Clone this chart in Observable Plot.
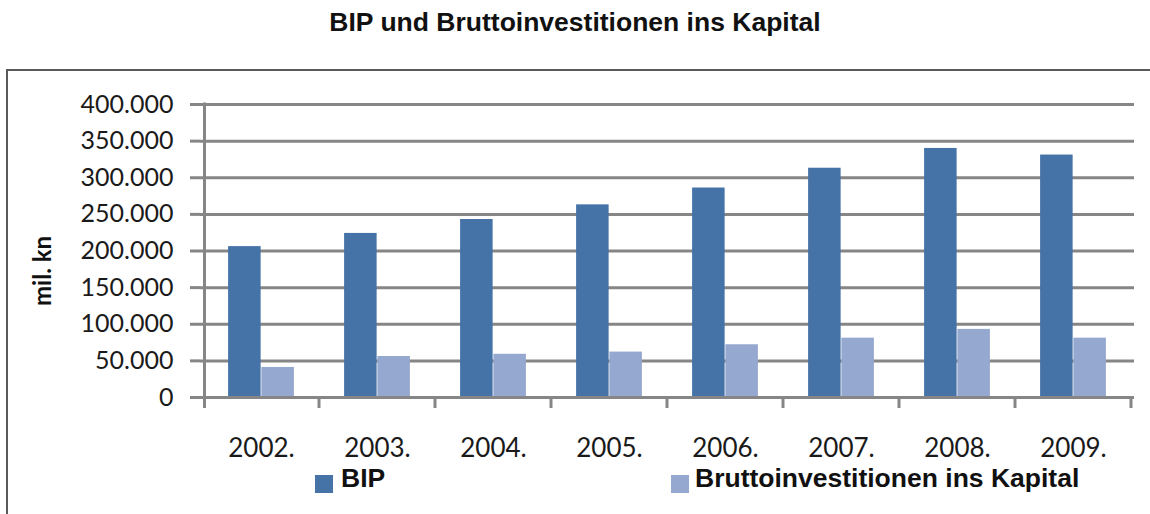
<!DOCTYPE html>
<html>
<head>
<meta charset="utf-8">
<script src="https://cdn.jsdelivr.net/npm/d3@7"></script>
<script src="https://cdn.jsdelivr.net/npm/@observablehq/plot@0.6"></script>
<style>
  html, body { margin: 0; padding: 0; background: #fff; }
  body { width: 1150px; height: 514px; overflow: hidden; position: relative; font-family: "Liberation Sans", Arial, sans-serif; }
  #title { position: absolute; left: 0; top: 9px; width: 1150px; text-align: center; font-size: 26.5px; line-height: 26.5px; font-weight: bold; color: #111; }
  #frame { position: absolute; left: 6px; top: 69px; width: 1160px; height: 470px; border-left: 2px solid #5a5a5a; border-top: 2px solid #5a5a5a; }
  #chart { position: absolute; left: 0; top: 70px; }
  .sw { position: absolute; width: 18px; height: 18px; }
  .lt { position: absolute; font-size: 26.5px; line-height: 26.5px; font-weight: bold; color: #111; white-space: nowrap; }
</style>
</head>
<body>
<div id="title">BIP und Bruttoinvestitionen ins Kapital</div>
<div id="frame"></div>
<div id="chart"></div>
<div id="legend"></div>
<script>
const years = ["2002.", "2003.", "2004.", "2005.", "2006.", "2007.", "2008.", "2009."];
const bip = [206000, 224000, 243000, 263000, 286000, 313000, 340000, 331000];
const inv = [41000, 56000, 59000, 62000, 72000, 81000, 93000, 81000];
const yTicks = [0, 50000, 100000, 150000, 200000, 250000, 300000, 350000, 400000];
const seriesNames = ["BIP", "Bruttoinvestitionen ins Kapital"];
const seriesColors = ["#4573A7", "#95A8CF"];
const yLabel = "mil. kn";

const rows = years.flatMap((yr, i) => [
  {year: yr, series: seriesNames[0], value: bip[i]},
  {year: yr, series: seriesNames[1], value: inv[i]}
]);

const W = 1150, H = 400, mT = 34, mB = 73, mL = 200, mR = 16;
const band = (W - mL - mR) / years.length;
const pair = band * 0.57;
const outer = (band - pair) / 2;
const inner = band / 2;

const nf = d3.formatLocale({decimal: ",", thousands: ".", grouping: [3]}).format(",");

function axisDecor(index, scales, values, dims) {
  const x = scales.x, y = scales.y;
  const bw = x.bandwidth ? x.bandwidth() : (dims.width - dims.marginLeft - dims.marginRight) / years.length;
  const xs = years.map(d => x(d));
  xs.push(xs[xs.length - 1] + bw);
  const y0 = y(0), yTop = y(yTicks[yTicks.length - 1]);
  const g = d3.create("svg:g").attr("stroke", "#868686").attr("stroke-width", 3);
  g.append("line").attr("x1", xs[0] + 1.5).attr("x2", xs[0] + 1.5).attr("y1", yTop - 1.5).attr("y2", y0 + 11);
  g.selectAll("line.t").data(xs.slice(1)).join("line").attr("class", "t")
    .attr("x1", d => d).attr("x2", d => d).attr("y1", y0).attr("y2", y0 + 11);
  return g.node();
}

const chart = Plot.plot({
  width: W, height: H,
  marginTop: mT, marginBottom: mB, marginLeft: mL, marginRight: mR,
  style: {fontFamily: "Lato, 'Open Sans', sans-serif", fontSize: "25px", color: "#1a1a1a", background: "transparent", overflow: "visible"},
  x: {domain: years, padding: 0, axis: null},
  y: {domain: [0, 400000], axis: null},
  marks: [
    Plot.gridY(yTicks, {stroke: "#868686", strokeOpacity: 1, strokeWidth: 3}),
    Plot.barY(rows.filter(d => d.series === seriesNames[0]), {x: "year", y: "value", fill: seriesColors[0], insetLeft: outer, insetRight: inner}),
    Plot.barY(rows.filter(d => d.series === seriesNames[1]), {x: "year", y: "value", fill: seriesColors[1], insetLeft: inner, insetRight: outer}),
    Plot.ruleY([0], {stroke: "#868686", strokeWidth: 3}),
    Plot.axisY(yTicks, {tickSize: 10, tickPadding: 17, tickFormat: d => nf(d), stroke: "#868686", strokeWidth: 3, fill: "#1a1a1a", label: null, fontSize: 25}),
    Plot.axisX({tickSize: 0, tickPadding: 41, label: null, fontSize: 26, fill: "#1a1a1a"}),
    axisDecor,
    Plot.text([yLabel], {frameAnchor: "left", dx: -157, dy: 20, rotate: -90, fontWeight: "bold", fontSize: 24, textAnchor: "middle", fill: "#111"})
  ]
});
document.getElementById("chart").appendChild(chart);

const legend = document.getElementById("legend");
const legPos = [{sw: 315, tx: 341}, {sw: 671, tx: 695}];
seriesNames.forEach((name, i) => {
  const s = document.createElement("div");
  s.className = "sw";
  s.style.left = legPos[i].sw + "px";
  s.style.top = "475px";
  s.style.background = seriesColors[i];
  legend.appendChild(s);
  const t = document.createElement("div");
  t.className = "lt";
  t.style.left = legPos[i].tx + "px";
  t.style.top = "465px";
  t.textContent = name;
  legend.appendChild(t);
});
</script>
</body>
</html>
